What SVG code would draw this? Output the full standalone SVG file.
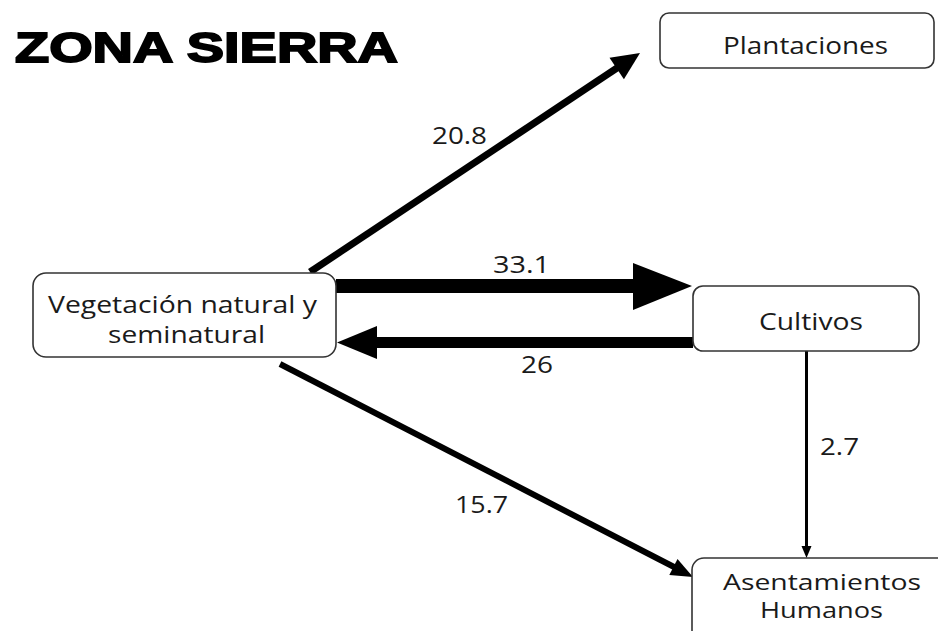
<svg xmlns="http://www.w3.org/2000/svg" width="938" height="631" viewBox="0 0 938 631">
<style>
.box{fill:#fff;stroke:#333;stroke-width:1.6}
.t{font-family:"Open Sans","Noto Sans",sans-serif;font-size:23px;fill:#1a1a1a}
.ts{font-size:21px}
.lbl{font-family:"Open Sans","Noto Sans",sans-serif;font-size:23px;fill:#1a1a1a}
.title{font-family:"Liberation Sans",Arial,sans-serif;font-weight:900;font-size:42px;fill:#000}
.ln{stroke:#000;fill:none}
.hd{fill:#000}
</style>
<rect width="938" height="631" fill="#fff"/>
<text class="title" x="15" y="62" textLength="383" lengthAdjust="spacingAndGlyphs" stroke="#000" stroke-width="1.8">ZONA SIERRA</text>
<g id="connectors">
  <line class="ln" x1="310" y1="272" x2="620" y2="66" stroke-width="7"/>
  <polygon class="hd" points="640,53 623.9,79.3 609.5,57.7"/>
  <line class="ln" x1="336" y1="286" x2="636" y2="286" stroke-width="14"/>
  <polygon class="hd" points="633,263 692,286 633,310"/>
  <line class="ln" x1="693" y1="342.5" x2="374" y2="342.5" stroke-width="11"/>
  <polygon class="hd" points="377,326 337,342.5 377,359"/>
  <line class="ln" x1="280" y1="364" x2="676" y2="568" stroke-width="6"/>
  <polygon class="hd" points="693,577 669.3,574.9 677.5,558.9"/>
  <line class="ln" x1="806.5" y1="351" x2="806.5" y2="550" stroke-width="3"/>
  <polygon class="hd" points="801.5,546 806.5,558 811.5,546"/>
  <text class="lbl" x="432" y="144" textLength="55" lengthAdjust="spacingAndGlyphs">20.8</text>
  <text class="lbl" x="493" y="273" textLength="57" lengthAdjust="spacingAndGlyphs">33.1</text>
  <text class="lbl" x="521" y="373" textLength="32" lengthAdjust="spacingAndGlyphs">26</text>
  <text class="lbl" x="455" y="513" textLength="53" lengthAdjust="spacingAndGlyphs">15.7</text>
  <text class="lbl" x="820" y="455" textLength="39" lengthAdjust="spacingAndGlyphs">2.7</text>
</g>
<g id="plantaciones">
  <rect class="box" x="660" y="13" width="274" height="55" rx="9"/>
  <text class="t" x="723" y="54" textLength="165" lengthAdjust="spacingAndGlyphs">Plantaciones</text>
</g>
<g id="vegetacion">
  <rect class="box" x="33" y="273" width="303" height="84" rx="13"/>
  <text class="t" x="48" y="313" textLength="269" lengthAdjust="spacingAndGlyphs">Vegetación natural y</text>
  <text class="t" x="108" y="343" textLength="157" lengthAdjust="spacingAndGlyphs">seminatural</text>
</g>
<g id="cultivos">
  <rect class="box" x="693" y="286" width="226" height="65" rx="10"/>
  <text class="t" x="759" y="330" textLength="104" lengthAdjust="spacingAndGlyphs">Cultivos</text>
</g>
<g id="asentamientos">
  <rect class="box" x="692" y="558" width="262" height="90" rx="12"/>
  <text class="t ts" x="723" y="590" textLength="198" lengthAdjust="spacingAndGlyphs">Asentamientos</text>
  <text class="t ts" x="760" y="618" textLength="123" lengthAdjust="spacingAndGlyphs">Humanos</text>
</g>
</svg>
